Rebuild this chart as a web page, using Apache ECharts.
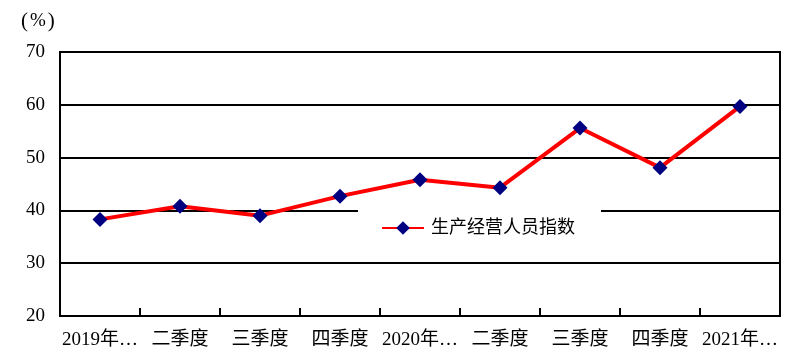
<!DOCTYPE html>
<html><head><meta charset="utf-8">
<script src="https://cdn.jsdelivr.net/npm/echarts@6/dist/echarts.min.js"></script>
<style>html,body{margin:0;padding:0;background:#fff}#c{width:812px;height:362px}</style>
</head><body><div id="c"></div>
<script>
const categories = ["2019年…", "二季度", "三季度", "四季度", "2020年…", "二季度", "三季度", "四季度", "2021年…"];
const seriesName = "生产经营人员指数";
const values = [38.3, 40.8, 39.0, 42.7, 45.8, 44.3, 55.6, 48.1, 59.7];
const yTicks = { min: 20, max: 70, interval: 10 };
const FONT = "'Liberation Serif', 'Noto Sans CJK SC', serif";

const chart = echarts.init(document.getElementById('c'), null, { renderer: 'canvas' });
chart.setOption({
  animation: false,
  backgroundColor: '#fff',
  textStyle: { fontFamily: FONT },
  grid: { left: 60, right: 32, top: 52, bottom: 46, show: true, borderColor: '#000', borderWidth: 2, backgroundColor: 'transparent' },
  graphic: [{ type: 'text', left: 21, top: 11, style: {
    text: '{p|(}{q|%}{p|)}',
    rich: {
      p: { fontSize: 21, fontFamily: "'Liberation Serif'", fill: '#000', padding: [0, 2, 0, 2] },
      q: { fontSize: 19, fontFamily: "'Liberation Serif'", fill: '#000' }
    }
  } }],
  legend: {
    left: 358, top: 206, padding: [13, 26, 13, 23],
    backgroundColor: '#fff',
    itemWidth: 42, itemHeight: 17, itemGap: 10,
    textStyle: { fontSize: 18, color: '#000', fontFamily: FONT, padding: [0, 0, 0, 2] },
    data: [{ name: seriesName }]
  },
  xAxis: {
    type: 'category', data: categories, boundaryGap: true,
    axisLine: { show: true, lineStyle: { color: '#000', width: 2 } },
    axisTick: { show: true, inside: true, length: 8, interval: 0, lineStyle: { color: '#000', width: 2 } },
    axisLabel: { interval: 0, fontSize: 19, color: '#000', margin: 15, fontFamily: FONT },
    splitLine: { show: false }
  },
  yAxis: {
    type: 'value', min: yTicks.min, max: yTicks.max, interval: yTicks.interval,
    axisLine: { show: true, lineStyle: { color: '#000', width: 2 } },
    axisTick: { show: false },
    axisLabel: { fontSize: 19, color: '#000', margin: 15, fontFamily: FONT },
    splitLine: { show: true, lineStyle: { color: '#000', width: 2 } }
  },
  series: [{
    name: seriesName, type: 'line', data: values,
    symbol: 'diamond', symbolSize: 15,
    lineStyle: { color: '#ff0000', width: 4 },
    itemStyle: { color: '#000080' },
    z: 5
  }]
});
</script></body></html>
